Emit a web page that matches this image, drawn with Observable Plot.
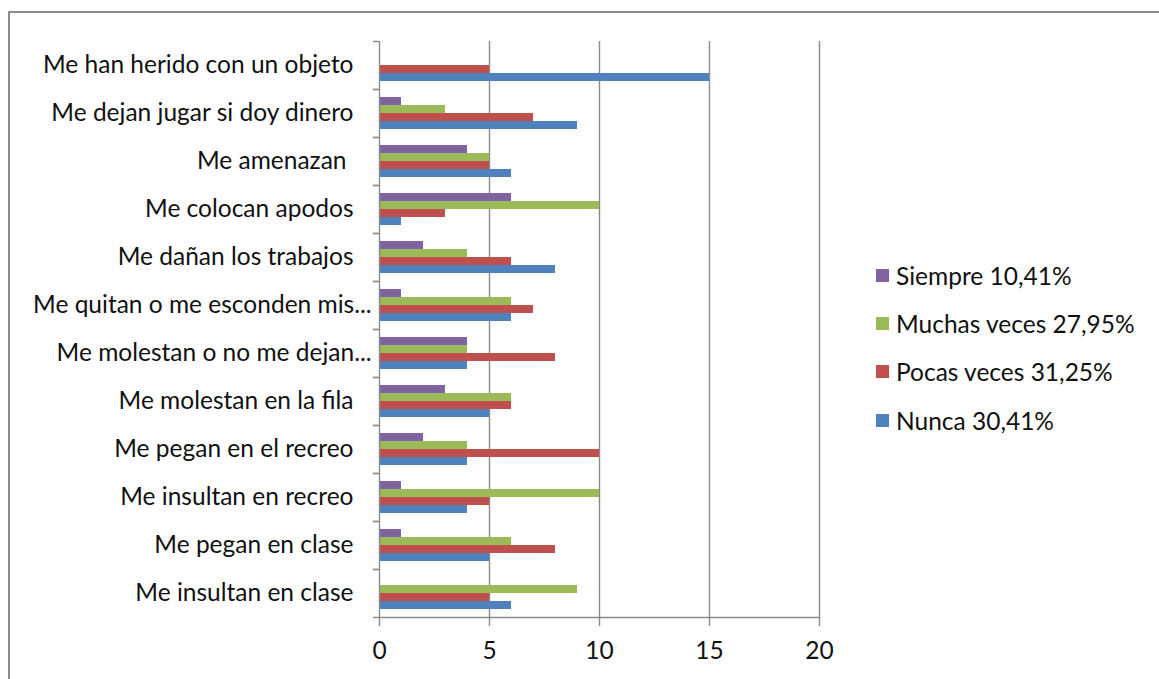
<!DOCTYPE html>
<html><head><meta charset="utf-8">
<script src="https://cdn.jsdelivr.net/npm/d3@7"></script>
<script src="https://cdn.jsdelivr.net/npm/@observablehq/plot@0.6"></script>
<style>
html,body{margin:0;padding:0;background:#fff;}
body{width:1159px;height:679px;overflow:hidden;position:relative;font-family:Lato,sans-serif;color:#111;}
#border{position:absolute;left:8px;top:11px;width:1200px;height:720px;border:2px solid #8c8c8c;box-sizing:border-box;}
#chart{position:absolute;left:0;top:0;}
#legend{position:absolute;left:876px;top:251px;}
.row{display:flex;align-items:center;height:48.3px;font-size:24.5px;white-space:nowrap;}
.sw{width:13px;height:13px;margin-right:7px;flex:none;}
</style></head>
<body>
<div id="border"></div>
<div id="chart"></div>
<div id="legend"></div>
<script>
const categories = [
  "Me han herido con un objeto",
  "Me dejan jugar si doy dinero",
  "Me amenazan",
  "Me colocan apodos",
  "Me dañan los trabajos",
  "Me quitan o me esconden mis...",
  "Me molestan o no me dejan...",
  "Me molestan en la fila",
  "Me pegan en el recreo",
  "Me insultan en recreo",
  "Me pegan en clase",
  "Me insultan en clase"
];
const truncatedLabels = ["Me quitan o me esconden mis...", "Me molestan o no me dejan..."];
const spacedLabels = ["Me amenazan"];
const seriesNames = ["Siempre", "Muchas veces", "Pocas veces", "Nunca"];
const legendLabels = ["Siempre 10,41%", "Muchas veces 27,95%", "Pocas veces 31,25%", "Nunca 30,41%"];
const siempre = [0, 1, 4, 6, 2, 1, 4, 3, 2, 1, 1, 0];
const muchas  = [0, 3, 5, 10, 4, 6, 4, 6, 4, 10, 6, 9];
const pocas   = [5, 7, 5, 3, 6, 7, 8, 6, 10, 5, 8, 5];
const nunca   = [15, 9, 6, 1, 8, 6, 4, 5, 4, 4, 5, 6];
const xTicks = [0, 5, 10, 15, 20];
const colors = ["#8064A2", "#9BBB59", "#C0504D", "#4F81BD"];

const seriesValues = [siempre, muchas, pocas, nunca];
const data = [];
categories.forEach((c, i) => {
  seriesNames.forEach((s, j) => data.push({category: c, series: s, value: seriesValues[j][i]}));
});
const isNormal = c => !truncatedLabels.includes(c) && !spacedLabels.includes(c);

const gray = "#8a8a8a";
const fs = 24.5;
const chart = Plot.plot({
  width: 840,
  height: 679,
  marginLeft: 379,
  marginRight: 21,
  marginTop: 41,
  marginBottom: 62,
  style: {fontFamily: "Lato, sans-serif", fontSize: fs + "px", color: "#111", background: "transparent"},
  x: {domain: [0, 20], ticks: xTicks, axis: null},
  y: {domain: seriesNames, paddingInner: 0, paddingOuter: 0.667, axis: null},
  fy: {domain: categories, padding: 0, axis: null},
  color: {domain: seriesNames, range: colors},
  marks: [
    Plot.gridX(xTicks.slice(1), {stroke: gray, strokeOpacity: 1, strokeWidth: 1.4}),
    Plot.barX(data, {x: "value", y: "series", fy: "category", fill: "series"}),
    Plot.ruleX([0], {stroke: gray, strokeWidth: 1.4}),
    Plot.axisFy({anchor: "left", tickSize: 0, tickPadding: 26, fontSize: fs, label: null, tickFormat: d => isNormal(d) ? d : ""}),
    Plot.axisFy({anchor: "left", tickSize: 0, tickPadding: 33, fontSize: fs, label: null, tickFormat: d => spacedLabels.includes(d) ? d : ""}),
    Plot.axisFy({anchor: "left", tickSize: 0, tickPadding: 8, fontSize: fs, label: null, tickFormat: d => truncatedLabels.includes(d) ? d : ""}),
    Plot.axisFy({anchor: "left", text: null, tickSize: 6, stroke: gray, strokeWidth: 1.4, dy: -24, label: null}),
    Plot.axisFy({anchor: "left", text: null, tickSize: 6, stroke: gray, strokeWidth: 1.4, dy: 24, label: null}),
    Plot.axisX(xTicks, {anchor: "bottom", tickSize: 9, tickPadding: 15, stroke: gray, strokeWidth: 1.4, fontSize: fs, label: null, tickFormat: d => String(d)}),
    Plot.frame({anchor: "bottom", stroke: gray, strokeWidth: 1.4, facet: "super"})
  ]
});
document.getElementById("chart").appendChild(chart);

const legend = document.getElementById("legend");
legendLabels.forEach((t, i) => {
  const row = document.createElement("div");
  row.className = "row";
  const sw = document.createElement("div");
  sw.className = "sw";
  sw.style.background = colors[i];
  const tx = document.createElement("span");
  tx.textContent = t;
  row.appendChild(sw); row.appendChild(tx);
  legend.appendChild(row);
});
</script>
</body></html>
